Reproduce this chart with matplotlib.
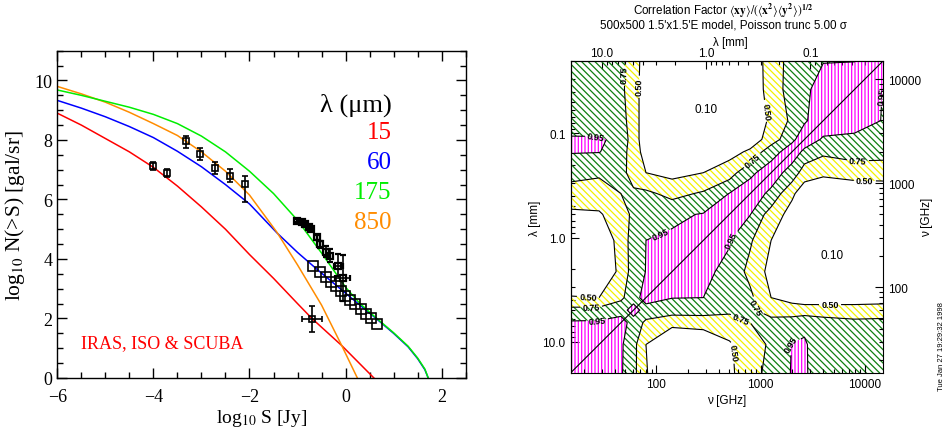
import numpy as np
import matplotlib
matplotlib.use("Agg")
import matplotlib.pyplot as plt
import matplotlib.colors as mcolors
from matplotlib.ticker import FixedLocator, FixedFormatter, MultipleLocator

# ---------------- Left panel data: model counts log10 N(>S) vs log10 S ----------------
logS_15 = [-6.0, -5.5, -5.0, -4.5, -4.0, -3.5, -3.0, -2.5, -2.0, -1.5, -1.0, -0.7, -0.08, 0.59]
logN_15 = [8.9, 8.5, 8.05, 7.6, 7.08, 6.45, 5.75, 5.0, 4.15, 3.35, 2.5, 2.0, 1.09, 0.0]

logS_60 = [-6.0, -5.5, -5.0, -4.5, -4.0, -3.5, -3.0, -2.5, -2.0, -1.43, -1.0, -0.6, 0.0, 0.65, 1.0, 1.3, 1.5, 1.65, 1.72]
logN_60 = [9.33, 9.07, 8.78, 8.45, 8.08, 7.62, 7.1, 6.5, 5.85, 4.88, 4.22, 3.66, 2.85, 1.98, 1.5, 1.05, 0.65, 0.28, 0.0]

logS_175 = [-6.0, -5.5, -5.0, -4.5, -4.0, -3.5, -3.0, -2.5, -2.0, -1.5, -1.0, -0.5, 0.0, 0.3, 0.65, 1.0, 1.3, 1.5, 1.65, 1.72]
logN_175 = [9.68, 9.5, 9.3, 9.1, 8.86, 8.55, 8.13, 7.6, 6.95, 6.2, 5.3, 4.2, 3.05, 2.5, 2.0, 1.52, 1.07, 0.67, 0.3, 0.0]

logS_850 = [-6.0, -5.5, -5.0, -4.5, -4.0, -3.5, -3.0, -2.5, -2.0, -1.43, -1.0, -0.5, -0.08, 0.245]
logN_850 = [9.8, 9.55, 9.27, 8.93, 8.55, 8.15, 7.6, 6.95, 6.15, 4.9, 3.8, 2.45, 1.09, 0.0]

# observed counts
iso15_x = [-4.01, -3.71]
iso15_y = [7.12, 6.89]
iso15_err = [0.14, 0.14]

scuba_x = [-3.32, -3.02, -2.71, -2.41, -2.10]
scuba_y = [7.98, 7.53, 7.05, 6.80, 6.52]
scuba_lo = [0.25, 0.20, 0.20, 0.22, 0.61]
scuba_hi = [0.17, 0.20, 0.20, 0.22, 0.28]

iso175_x = [-1.01, -0.91, -0.84, -0.755, -0.71, -0.60, -0.53, -0.41, -0.325, -0.15, -0.06]
iso175_y = [5.29, 5.23, 5.18, 5.09, 5.01, 4.73, 4.50, 4.25, 4.11, 3.77, 3.35]
iso175_lo = [0.04, 0.04, 0.05, 0.05, 0.06, 0.08, 0.12, 0.18, 0.22, 0.35, 0.75]
iso175_hi = [0.04, 0.04, 0.05, 0.05, 0.06, 0.08, 0.12, 0.18, 0.22, 0.40, 0.80]
iso175_xerr = [0, 0, 0, 0, 0, 0, 0, 0, 0, 0.10, 0.15]

iras60_x = [-0.671, -0.532, -0.407, -0.303, -0.199, -0.102, -0.005, 0.092, 0.203, 0.314, 0.425, 0.529, 0.647]
iras60_y = [3.753, 3.574, 3.406, 3.238, 3.081, 2.935, 2.767, 2.633, 2.487, 2.319, 2.151, 2.005, 1.804]

single_x = [-0.70]
single_y = [1.98]
single_xerr = [0.21]
single_yerr = [0.45]

band_labels = ["15", "60", "175", "850"]
band_colors = ["#ff0000", "#0000ff", "#00ee00", "#ff8c00"]

# ---------------- Right panel data: correlation matrix on log10(nu/GHz) nodes ----------------
log_nu_nodes = [1.176, 1.45, 1.66, 1.78, 1.90, 2.15, 2.45, 2.7, 2.9, 3.1, 3.3, 3.42, 3.6, 3.9, 4.176]
corr_lower_rows = [
    [1.0],
    [0.98, 1.0],
    [0.97, 0.975, 1.0],
    [0.82, 0.83, 0.90, 1.0],
    [0.52, 0.50, 0.70, 0.90, 1.0],
    [0.20, 0.15, 0.60, 0.85, 0.955, 1.0],
    [0.20, 0.25, 0.62, 0.85, 0.95, 0.975, 1.0],
    [0.45, 0.48, 0.60, 0.82, 0.88, 0.92, 0.96, 1.0],
    [0.65, 0.60, 0.75, 0.80, 0.80, 0.68, 0.78, 0.955, 1.0],
    [0.83, 0.80, 0.85, 0.62, 0.50, 0.42, 0.50, 0.65, 0.93, 1.0],
    [0.96, 0.955, 0.88, 0.60, 0.42, 0.10, 0.15, 0.40, 0.55, 0.91, 1.0],
    [0.965, 0.965, 0.92, 0.62, 0.35, 0.10, 0.10, 0.20, 0.35, 0.62, 0.93, 1.0],
    [0.88, 0.87, 0.85, 0.62, 0.35, 0.10, 0.10, 0.12, 0.30, 0.55, 0.80, 0.94, 1.0],
    [0.85, 0.85, 0.80, 0.62, 0.35, 0.10, 0.10, 0.10, 0.30, 0.62, 0.85, 0.94, 0.97, 1.0],
    [0.82, 0.82, 0.80, 0.65, 0.35, 0.10, 0.10, 0.15, 0.35, 0.60, 0.85, 0.93, 0.948, 0.948, 1.0],
]
nu_major = [100, 1000, 10000]
lam_major = [0.1, 1.0, 10.0]
lam_major_labels = ["0.1", "1.0", "10.0"]

# ================= figure =================
plt.rcParams["mathtext.fontset"] = "stix"
plt.rcParams["hatch.linewidth"] = 0.9
fig = plt.figure(figsize=(9.47, 4.31), dpi=100)
W, H = 947.0, 431.0

# ---------- left panel ----------
serif = ["Liberation Serif", "DejaVu Serif"]
ax1 = fig.add_axes([57.3 / W, 1 - 379 / H, (465.7 - 57.3) / W, (379 - 51.7) / H])
lw = 1.1
ax1.plot(logS_15, logN_15, color=band_colors[0], lw=lw)
ax1.plot(logS_60, logN_60, color=band_colors[1], lw=lw)
ax1.plot(logS_850, logN_850, color=band_colors[3], lw=lw)
ax1.plot(logS_175, logN_175, color=band_colors[2], lw=lw)

ekw = dict(fmt="s", mfc="none", mec="black", ecolor="black", elinewidth=1.2, capsize=2, capthick=1.2)
ax1.errorbar(iso15_x, iso15_y, yerr=iso15_err, ms=5, mew=1.2, **ekw)
ax1.errorbar(scuba_x, scuba_y, yerr=[scuba_lo, scuba_hi], ms=5, mew=1.2, **ekw)
ax1.errorbar(iso175_x, iso175_y, yerr=[iso175_lo, iso175_hi], xerr=iso175_xerr, ms=4.5, mew=1.6, **ekw)
ax1.errorbar(iras60_x, iras60_y, ms=7.5, mew=1.2, **ekw)
ax1.errorbar(single_x, single_y, xerr=single_xerr, yerr=single_yerr, ms=5, mew=1.2, **ekw)

ax1.set_xlim(-6, 2.5)
ax1.set_ylim(0, 11)
ax1.xaxis.set_major_locator(FixedLocator([-6, -4, -2, 0, 2]))
ax1.xaxis.set_minor_locator(MultipleLocator(0.5))
ax1.yaxis.set_major_locator(FixedLocator([0, 2, 4, 6, 8, 10]))
ax1.yaxis.set_minor_locator(MultipleLocator(0.5))
ax1.tick_params(which="both", direction="in", top=True, right=True, width=1.0)
ax1.tick_params(which="major", length=7, labelsize=13)
ax1.tick_params(which="minor", length=4)
ax1.tick_params(axis="x", which="major", pad=7)
for lab in ax1.get_xticklabels() + ax1.get_yticklabels():
    lab.set_family(serif)
for sp in ax1.spines.values():
    sp.set_linewidth(1.0)
ax1.set_xlabel("log$_{10}$ S [Jy]", fontsize=14, family=serif, labelpad=2)
ax1.set_ylabel("log$_{10}$ N(>S) [gal/sr]", fontsize=15.5, family=serif, labelpad=5)

ax1.text(0.96, 9.21, "λ (μm)", ha="right", va="center", fontsize=19, family=serif, color="black")
for k, (lab, col) in enumerate(zip(band_labels, band_colors)):
    ax1.text(0.96, 8.26 - 1.01 * k, lab, ha="right", va="center", fontsize=18, family=serif, color=col)
ax1.text(-5.51, 1.2, "IRAS, ISO & SCUBA", ha="left", va="center", fontsize=13, family=serif, color="#ff0000")

# ---------- right panel ----------
sans = ["Liberation Sans", "DejaVu Sans"]
u = np.array(log_nu_nodes)
n = len(u)
Z = np.zeros((n, n))
for i, row in enumerate(corr_lower_rows):
    for j, v in enumerate(row):
        Z[i, j] = v
        Z[j, i] = v

ax2 = fig.add_axes([570.5 / W, 1 - 374 / H, (883.3 - 570.5) / W, (374 - 61.7) / H])
fills = [
    (0.50, 0.75, "#f2f200", "\\" * 5),
    (0.75, 0.95, "#0f7f0f", "\\" * 5),
    (0.95, 1.01, "#ff00ff", "|" * 5),
]
for lo, hi, col, h in fills:
    with plt.rc_context({"hatch.color": col}):
        cf = ax2.contourf(u, u, Z, levels=[lo, hi], colors="none", hatches=[h])
    cf._hatch_color = mcolors.to_rgba(col)

label_spots = {
    0.50: [(1.831, 3.926), (3.074, 3.697), (3.999, 3.027), (1.344, 1.917), (3.665, 1.831), (2.729, 1.371)],
    0.75: [(1.726, 4.041), (2.929, 3.209), (3.932, 3.209), (1.373, 1.811), (2.824, 1.725), (2.977, 1.811)],
    0.95: [(1.42, 3.438), (4.123, 3.84), (2.022, 2.558), (2.71, 2.462), (1.43, 1.697), (3.264, 1.467)],
}
for lev, spots in label_spots.items():
    cs = ax2.contour(u, u, Z, levels=[lev], colors="black", linewidths=0.8)
    try:
        txts = cs.clabel(fmt="%.2f", fontsize=6.5, inline=True, inline_spacing=1, manual=spots)
        for t in txts:
            t.set_fontweight("bold")
            t.set_family(sans)
    except Exception:
        pass

ax2.plot([u[0], u[-1]], [u[0], u[-1]], color="black", lw=0.8)
ax2.text(2.48, 3.716, "0.10", ha="center", va="center", fontsize=8.5, family=sans)
ax2.text(3.684, 2.309, "0.10", ha="center", va="center", fontsize=8.5, family=sans)

ax2.set_xlim(u[0], u[-1])
ax2.set_ylim(u[0], u[-1])

nu_minor = [k * 10.0 ** m for m in (1, 2, 3) for k in range(2, 10)]
nu_minor = [v for v in nu_minor if 15 <= v <= 15000]
for axis in (ax2.xaxis, ax2.yaxis):
    axis.set_major_locator(FixedLocator(np.log10(nu_major)))
    axis.set_major_formatter(FixedFormatter([str(v) for v in nu_major]))
    axis.set_minor_locator(FixedLocator(np.log10(nu_minor)))
ax2.yaxis.tick_right()
ax2.yaxis.set_label_position("right")
ax2.tick_params(which="both", direction="in", labelsize=8.5)
ax2.tick_params(which="major", length=6, width=0.8)
ax2.tick_params(which="minor", length=3, width=0.8)
for lab in ax2.get_xticklabels() + ax2.get_yticklabels():
    lab.set_family(sans)
ax2.set_xlabel("ν [GHz]", fontsize=8.5, family=sans, labelpad=3)
ax2.set_ylabel("ν [GHz]", fontsize=8.5, family=sans, labelpad=0)

LC = np.log10(299.792458)
fwd = lambda x: LC - x
lam_minor = [k * 10.0 ** m for m in (-2, -1, 0, 1) for k in range(1, 10)]
lam_minor = [v for v in lam_minor if 0.02 <= v <= 20 and v not in lam_major]
secx = ax2.secondary_xaxis("top", functions=(fwd, fwd))
secy = ax2.secondary_yaxis("left", functions=(fwd, fwd))
for sec, axis in ((secx, secx.xaxis), (secy, secy.yaxis)):
    axis.set_major_locator(FixedLocator(np.log10(lam_major)))
    axis.set_major_formatter(FixedFormatter(lam_major_labels))
    axis.set_minor_locator(FixedLocator(np.log10(lam_minor)))
    sec.tick_params(which="both", direction="in", labelsize=8.5)
    sec.tick_params(which="major", length=6, width=0.8)
    sec.tick_params(which="minor", length=3, width=0.8)
    for lab in axis.get_ticklabels():
        lab.set_family(sans)
secx.tick_params(which="major", pad=1.5)
secy.set_ylabel("λ [mm]", fontsize=8.5, family=sans, labelpad=1)
fig.text(730 / W, 1 - 43 / H, "λ [mm]", ha="center", va="center", fontsize=8.3, family=sans)

fig.text(723 / W, 1 - 15 / H,
         r"Correlation Factor $\langle\mathbf{xy}\rangle/(\langle\mathbf{x^2}\rangle\langle\mathbf{y^2}\rangle)^{\mathbf{1/2}}$",
         ha="center", va="baseline", fontsize=8.4, family=sans)
fig.text(723 / W, 1 - 29 / H, "500x500 1.5'x1.5'E model, Poisson trunc 5.00 σ",
         ha="center", va="baseline", fontsize=8.4, family=sans)
fig.text(941 / W, 1 - 346.7 / H, "Tue Jan 27 19:29:32 1998", rotation=90, ha="center", va="center",
         fontsize=5.5, family=sans)

fig.savefig("out.png", dpi=100)
